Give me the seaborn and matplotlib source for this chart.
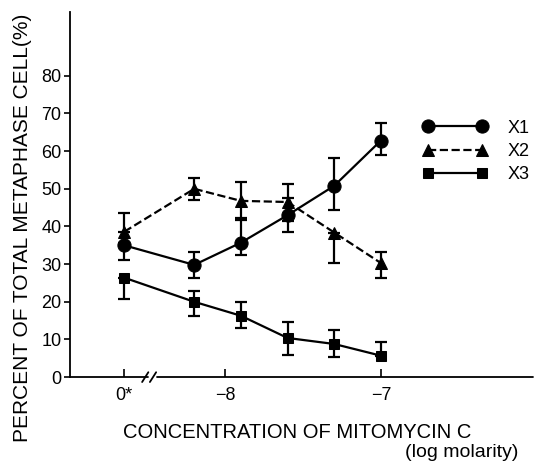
import numpy as np
import pandas as pd
import matplotlib
matplotlib.use("Agg")
import matplotlib.pyplot as plt
import seaborn as sns

# ---- data ----
conc = [-8.65, -8.2, -7.9, -7.6, -7.3, -7.0]   # log molarity (first = control "0*")
x1 = [35.0, 29.8, 35.7, 43.0, 50.8, 62.8]
x1_lo = [4.0, 3.5, 3.4, 4.5, 6.5, 3.8]
x1_hi = [3.5, 3.4, 5.9, 4.5, 7.5, 4.7]
x2 = [38.6, 50.0, 46.8, 46.5, 38.4, 30.3]
x2_lo = [3.0, 3.0, 4.5, 5.0, 8.1, 3.9]
x2_hi = [5.0, 3.0, 5.0, 4.8, 0.0, 2.8]
x3 = [26.4, 20.0, 16.3, 10.4, 8.8, 5.7]
x3_lo = [5.7, 3.8, 3.2, 4.5, 3.4, 0.0]
x3_hi = [0.0, 2.9, 3.7, 4.2, 3.7, 3.7]
tick_pos = [-8.65, -8.0, -7.0]
tick_labels = ["0*", "\u22128", "\u22127"]
y_ticks = [0, 10, 20, 30, 40, 50, 60, 70, 80]

sns.set_style("ticks", {"axes.edgecolor": "black", "text.color": "black",
                        "axes.labelcolor": "black", "xtick.color": "black",
                        "ytick.color": "black"})
plt.rcParams['font.family'] = ['Liberation Sans', 'DejaVu Sans']

fig = plt.figure(figsize=(5.37, 4.72), dpi=100)
ax = fig.add_axes([0.130, 0.201, 0.863, 0.774])

series = [
    ("X1", x1, x1_lo, x1_hi, "o", 9.5, "-"),
    ("X2", x2, x2_lo, x2_hi, "^", 8.5, "--"),
    ("X3", x3, x3_lo, x3_hi, "s", 7.0, "-"),
]
for name, vals, lo, hi, mk, ms, ls in series:
    ax.errorbar(conc, vals, yerr=[lo, hi], fmt="none", ecolor="black",
                elinewidth=1.6, capsize=4.3, capthick=1.6, zorder=2)
    df = pd.DataFrame({"conc": conc, "pct": vals})
    sns.lineplot(data=df, x="conc", y="pct", ax=ax, color="black",
                 marker=mk, markersize=ms, linestyle=ls, linewidth=1.6,
                 markeredgecolor="black", label=name, zorder=3)

ax.set_xlim(-9.0, -6.02)
ax.set_ylim(0, 97)
ax.set_yticks(y_ticks)
ax.set_xticks(tick_pos)
ax.set_xticklabels(tick_labels)
ax.tick_params(axis="x", direction="in", length=6, width=1.2, labelsize=13, pad=7,
               colors="black")
ax.tick_params(axis="y", direction="out", length=4, width=1.2, labelsize=13, pad=2,
               colors="black")

for s in ["top", "right", "bottom"]:
    ax.spines[s].set_visible(False)
ax.spines["left"].set_linewidth(1.3)
ax.spines["left"].set_color("black")

# broken x axis
tr = ax.get_xaxis_transform()
ax.plot([-9.0, -8.50], [0, 0], color="black", lw=1.3, transform=tr, clip_on=False)
ax.plot([-8.44, -6.02], [0, 0], color="black", lw=1.3, transform=tr, clip_on=False)
for xb in [-8.515, -8.465]:
    ax.plot([xb - 0.02, xb + 0.02], [-1.3, 1.3], color="black", lw=1.3, clip_on=False)

ax.set_xlabel("")
ax.set_ylabel("PERCENT OF TOTAL METAPHASE CELL(%)", fontsize=15, color="black")
ax.yaxis.set_label_coords(-0.082, 0.41)
fig.text(0.553, 0.083, "CONCENTRATION OF MITOMYCIN C", ha="center", va="center",
         fontsize=14.5, color="black")
fig.text(0.965, 0.042, "(log molarity)", ha="right", va="center", fontsize=14, color="black")

leg = ax.legend(loc="upper left", bbox_to_anchor=(0.749, 0.72), frameon=False,
                numpoints=2, handlelength=3.6, fontsize=13, labelspacing=0.35,
                handletextpad=1.1, borderaxespad=0, borderpad=0.3)
for t in leg.get_texts():
    t.set_color("black")

fig.savefig("out.png", dpi=100)
